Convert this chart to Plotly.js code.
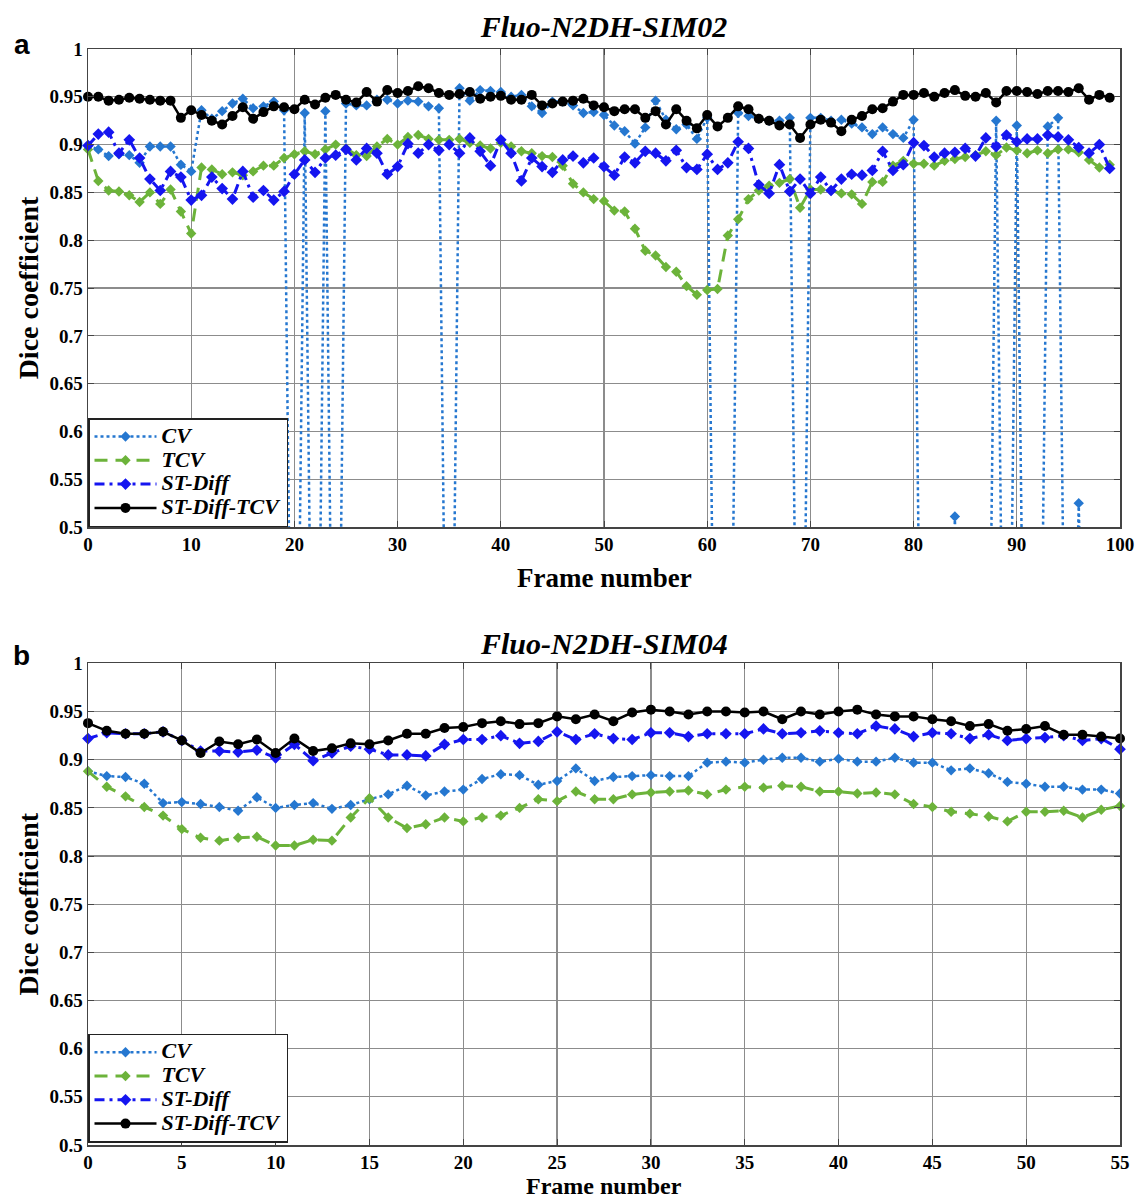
<!DOCTYPE html>
<html>
<head>
<meta charset="utf-8">
<script src="https://cdn.plot.ly/plotly-3.0.1.min.js"></script>
<style>html,body{margin:0;padding:0;background:#fff;}#chart{width:1136px;height:1201px;}</style>
</head>
<body>
<div id="chart"></div>
<script>
// ---------- Data: Fluo-N2DH-SIM02 (panel a) ----------
var framesA = [0,1,2,3,4,5,6,7,8,9,10,11,12,13,14,15,16,17,18,19,20,21,22,23,24,25,26,27,28,29,30,31,32,33,34,35,36,37,38,39,40,41,42,43,44,45,46,47,48,49,50,51,52,53,54,55,56,57,58,59,60,61,62,63,64,65,66,67,68,69,70,71,72,73,74,75,76,77,78,79,80,81,82,83,84,85,86,87,88,89,90,91,92,93,94,95,96,97,98,99];
var cvA = [0.899,0.895,0.888,0.890,0.889,0.881,0.898,0.898,0.898,0.879,0.872,0.936,0.927,0.935,0.943,0.948,0.938,0.940,0.945,0.936,0,0.933,0,0.935,0,0.943,0.941,0.941,0.947,0.947,0.943,0.946,0.945,0.940,0.938,0,0.959,0.946,0.957,0.956,0.955,0.950,0.952,0.940,0.933,0.945,0.945,0.941,0.933,0.934,0.931,0.920,0.914,0.901,0.918,0.946,0.926,0.916,0.921,0.906,0.928,0,0,0.933,0.930,0.927,0.925,0.925,0.928,0,0.928,0.928,0.925,0.926,0.922,0.918,0.911,0.918,0.911,0.907,0.926,0,0,0,0.511,0,0,0,0.925,0,0.920,0,0,0.919,0.928,0,0.525,0,0,0];
var tcvA = [0.895,0.862,0.852,0.851,0.847,0.840,0.850,0.838,0.853,0.830,0.807,0.876,0.874,0.869,0.871,0.868,0.872,0.878,0.878,0.886,0.890,0.893,0.890,0.895,0.900,0.896,0.889,0.888,0.898,0.906,0.900,0.908,0.910,0.906,0.905,0.905,0.906,0.902,0.899,0.896,0.902,0.898,0.893,0.891,0.888,0.887,0.878,0.859,0.850,0.843,0.841,0.831,0.830,0.812,0.789,0.784,0.772,0.767,0.752,0.743,0.748,0.749,0.805,0.822,0.843,0.852,0.857,0.860,0.864,0.834,0.853,0.853,0.852,0.849,0.848,0.838,0.861,0.861,0.878,0.883,0.880,0.880,0.878,0.883,0.885,0.887,0.889,0.893,0.889,0.897,0.894,0.891,0.894,0.891,0.895,0.895,0.892,0.884,0.876,0.879];
var stdiffA = [0.899,0.911,0.913,0.891,0.905,0.886,0.864,0.852,0.872,0.866,0.842,0.847,0.866,0.854,0.843,0.872,0.845,0.852,0.842,0.851,0.869,0.884,0.871,0.886,0.889,0.895,0.884,0.896,0.891,0.869,0.877,0.901,0.891,0.900,0.894,0.900,0.891,0.907,0.893,0.878,0.905,0.891,0.862,0.886,0.877,0.871,0.884,0.888,0.881,0.886,0.877,0.868,0.887,0.881,0.893,0.891,0.883,0.894,0.876,0.874,0.890,0.874,0.881,0.903,0.896,0.858,0.849,0.879,0.851,0.864,0.849,0.866,0.852,0.864,0.869,0.868,0.873,0.893,0.873,0.879,0.902,0.899,0.887,0.891,0.892,0.896,0.888,0.907,0.898,0.910,0.903,0.906,0.906,0.910,0.908,0.905,0.897,0.891,0.900,0.875];
var sttcvA = [0.950,0.950,0.946,0.947,0.949,0.948,0.947,0.946,0.946,0.928,0.936,0.931,0.925,0.921,0.930,0.939,0.927,0.934,0.940,0.939,0.937,0.947,0.942,0.949,0.952,0.947,0.944,0.955,0.945,0.957,0.954,0.956,0.961,0.959,0.954,0.952,0.953,0.955,0.948,0.950,0.951,0.947,0.947,0.952,0.941,0.943,0.945,0.946,0.948,0.941,0.939,0.935,0.937,0.937,0.928,0.935,0.921,0.937,0.925,0.917,0.931,0.919,0.928,0.940,0.937,0.927,0.925,0.920,0.921,0.907,0.921,0.926,0.923,0.914,0.926,0.930,0.937,0.938,0.945,0.952,0.952,0.954,0.950,0.954,0.957,0.951,0.950,0.954,0.944,0.956,0.956,0.955,0.953,0.956,0.956,0.955,0.959,0.947,0.952,0.949];

// ---------- Data: Fluo-N2DH-SIM04 (panel b) ----------
var framesB = [0,1,2,3,4,5,6,7,8,9,10,11,12,13,14,15,16,17,18,19,20,21,22,23,24,25,26,27,28,29,30,31,32,33,34,35,36,37,38,39,40,41,42,43,44,45,46,47,48,49,50,51,52,53,54,55];
var cvB = [0.888,0.883,0.882,0.875,0.855,0.856,0.854,0.851,0.847,0.861,0.850,0.853,0.855,0.849,0.853,0.859,0.864,0.873,0.863,0.867,0.869,0.880,0.885,0.884,0.874,0.878,0.891,0.878,0.882,0.883,0.884,0.883,0.883,0.897,0.898,0.897,0.900,0.902,0.902,0.898,0.901,0.898,0.898,0.902,0.897,0.897,0.889,0.891,0.886,0.877,0.875,0.872,0.872,0.869,0.869,0.865];
var tcvB = [0.888,0.872,0.862,0.851,0.842,0.828,0.819,0.816,0.819,0.820,0.811,0.811,0.817,0.816,0.840,0.860,0.840,0.829,0.833,0.840,0.836,0.840,0.842,0.850,0.859,0.857,0.867,0.859,0.859,0.864,0.866,0.867,0.868,0.864,0.869,0.872,0.871,0.873,0.872,0.867,0.867,0.865,0.866,0.864,0.854,0.851,0.846,0.844,0.841,0.836,0.846,0.846,0.847,0.840,0.848,0.852];
var stdiffB = [0.922,0.928,0.927,0.927,0.929,0.920,0.909,0.909,0.908,0.910,0.902,0.916,0.899,0.907,0.914,0.911,0.905,0.905,0.904,0.916,0.921,0.921,0.925,0.917,0.919,0.929,0.921,0.927,0.922,0.921,0.928,0.928,0.924,0.927,0.927,0.927,0.932,0.927,0.928,0.930,0.928,0.927,0.935,0.932,0.924,0.928,0.927,0.922,0.926,0.920,0.922,0.923,0.925,0.920,0.922,0.911];
var sttcvB = [0.938,0.930,0.927,0.927,0.929,0.920,0.907,0.919,0.916,0.921,0.907,0.922,0.909,0.912,0.917,0.916,0.920,0.927,0.927,0.933,0.934,0.938,0.940,0.937,0.938,0.945,0.942,0.947,0.940,0.949,0.952,0.950,0.947,0.950,0.950,0.949,0.950,0.942,0.950,0.947,0.950,0.952,0.947,0.945,0.945,0.942,0.940,0.935,0.937,0.930,0.932,0.935,0.926,0.926,0.924,0.922];

var seriesNames = ['CV', 'TCV', 'ST-Diff', 'ST-Diff-TCV'];
var yTickVals = [0.5,0.55,0.6,0.65,0.7,0.75,0.8,0.85,0.9,0.95,1];
var yTickText = ['0.5','0.55','0.6','0.65','0.7','0.75','0.8','0.85','0.9','0.95','1'];
var xTickValsA = [0,10,20,30,40,50,60,70,80,90,100];
var xTickValsB = [0,5,10,15,20,25,30,35,40,45,50,55];
var titleA = 'Fluo-N2DH-SIM02';
var titleB = 'Fluo-N2DH-SIM04';
var xTitle = 'Frame number';
var yTitle = 'Dice coefficient';

// ---------- Styles ----------
var styles = [
  {color:'#2577d0', dash:'3px,3px', width:2.5, symbol:'diamond', msize:8, clip:true},
  {color:'#6cb33a', dash:'13px,8px', width:3, symbol:'diamond', msize:8, clip:false},
  {color:'#1515f0', dash:'10px,5px,3px,5px', width:3, symbol:'diamond', msize:9, clip:false},
  {color:'#000000', dash:'solid', width:2.5, symbol:'circle', msize:10, clip:false}
];

function mk(x, y, i, xa, ya, leg) {
  var s = styles[i];
  return {
    x: x, y: y, type: 'scatter', mode: 'lines+markers',
    name: '<span style="font-size:22px">' + seriesNames[i] + '</span>',
    xaxis: xa, yaxis: ya, legend: leg,
    line: {color: s.color, dash: s.dash, width: s.width},
    marker: {color: s.color, symbol: s.symbol, size: s.msize},
    cliponaxis: s.clip
  };
}

var data = [
  mk(framesA, cvA, 0, 'x', 'y', 'legend'),
  mk(framesA, tcvA, 1, 'x', 'y', 'legend'),
  mk(framesA, stdiffA, 2, 'x', 'y', 'legend'),
  mk(framesA, sttcvA, 3, 'x', 'y', 'legend'),
  mk(framesB, cvB, 0, 'x2', 'y2', 'legend2'),
  mk(framesB, tcvB, 1, 'x2', 'y2', 'legend2'),
  mk(framesB, stdiffB, 2, 'x2', 'y2', 'legend2'),
  mk(framesB, sttcvB, 3, 'x2', 'y2', 'legend2')
];

var serif = 'Liberation Serif, Times New Roman, serif';
var tickFont = {family: serif, size: 19, color: '#000', weight: 'bold'};
var axTitleFont = {family: serif, size: 28, color: '#000', weight: 'bold'};
var xTitleFontTop = {family: serif, size: 27, color: '#000', weight: 'bold'};
var xTitleFontBottom = {family: serif, size: 24, color: '#000', weight: 'bold'};
var legFont = {family: serif, size: 16, color: '#000', weight: 'bold', style: 'italic'};

function xAxis(range, tv, anchor) {
  return {
    domain: [0, 1], anchor: anchor, range: range, tickvals: tv,
    showgrid: true, gridcolor: '#8c8c8c', gridwidth: 1.2, zeroline: false,
    showline: true, linecolor: '#444', linewidth: 1.5, mirror: 'ticks',
    ticks: 'inside', ticklen: 6, tickcolor: '#444', tickfont: tickFont
  };
}
function yAxis(domain, anchor) {
  return {
    domain: domain, anchor: anchor, range: [0.5, 1], tickvals: yTickVals, ticktext: yTickText,
    showgrid: true, gridcolor: '#8c8c8c', gridwidth: 1.2, zeroline: false,
    showline: true, linecolor: '#444', linewidth: 1.5, mirror: 'ticks',
    ticks: 'inside', ticklen: 6, tickcolor: '#444', tickfont: tickFont,
    title: {text: yTitle, font: axTitleFont, standoff: 2}
  };
}

var legendBase = {
  xref: 'paper', yref: 'paper', x: 0, xanchor: 'left', yanchor: 'bottom',
  bgcolor: '#ffffff', bordercolor: '#222', borderwidth: 1.5,
  font: legFont, itemwidth: 62, tracegroupgap: 0
};
var leg1 = Object.assign({}, legendBase, {y: 0.5638});
var leg2 = Object.assign({}, legendBase, {y: 0.002});

var titleFont = {family: serif, size: 30, color: '#000', weight: 'bold', style: 'italic'};
var panelFont = {family: 'Liberation Sans, Arial, sans-serif', size: 28, color: '#000', weight: 'bold'};

var layout = {
  width: 1136, height: 1201,
  margin: {l: 88, r: 16, t: 49, b: 56},
  paper_bgcolor: '#ffffff', plot_bgcolor: '#ffffff',
  showlegend: true,
  title: {text: titleA, font: titleFont, x: 0.5, xref: 'paper', y: 1 - 26/1201, yref: 'container', yanchor: 'middle'},
  xaxis: xAxis([0, 100], xTickValsA, 'y'),
  yaxis: yAxis([0.5638, 1], 'x'),
  xaxis2: xAxis([0, 55], xTickValsB, 'y2'),
  yaxis2: yAxis([0, 0.4394], 'x2'),
  legend: leg1,
  legend2: leg2,
  annotations: [
    {text: titleB, font: titleFont, xref: 'paper', yref: 'paper', x: 0.5, y: 0.458, xanchor: 'center', yanchor: 'middle', showarrow: false},
    {text: xTitle, font: xTitleFontTop, xref: 'paper', yref: 'paper', x: 0.5, y: 0.517, xanchor: 'center', yanchor: 'middle', showarrow: false},
    {text: xTitle, font: xTitleFontBottom, xref: 'paper', yref: 'paper', x: 0.5, y: -0.0375, xanchor: 'center', yanchor: 'middle', showarrow: false},
    {text: 'a', font: panelFont, xref: 'paper', yref: 'paper', x: -0.064, y: 1.004, xanchor: 'center', yanchor: 'middle', showarrow: false},
    {text: 'b', font: panelFont, xref: 'paper', yref: 'paper', x: -0.064, y: 0.447, xanchor: 'center', yanchor: 'middle', showarrow: false}
  ]
};

Plotly.newPlot('chart', data, layout, {staticPlot: true, displayModeBar: false});
</script>
</body>
</html>
